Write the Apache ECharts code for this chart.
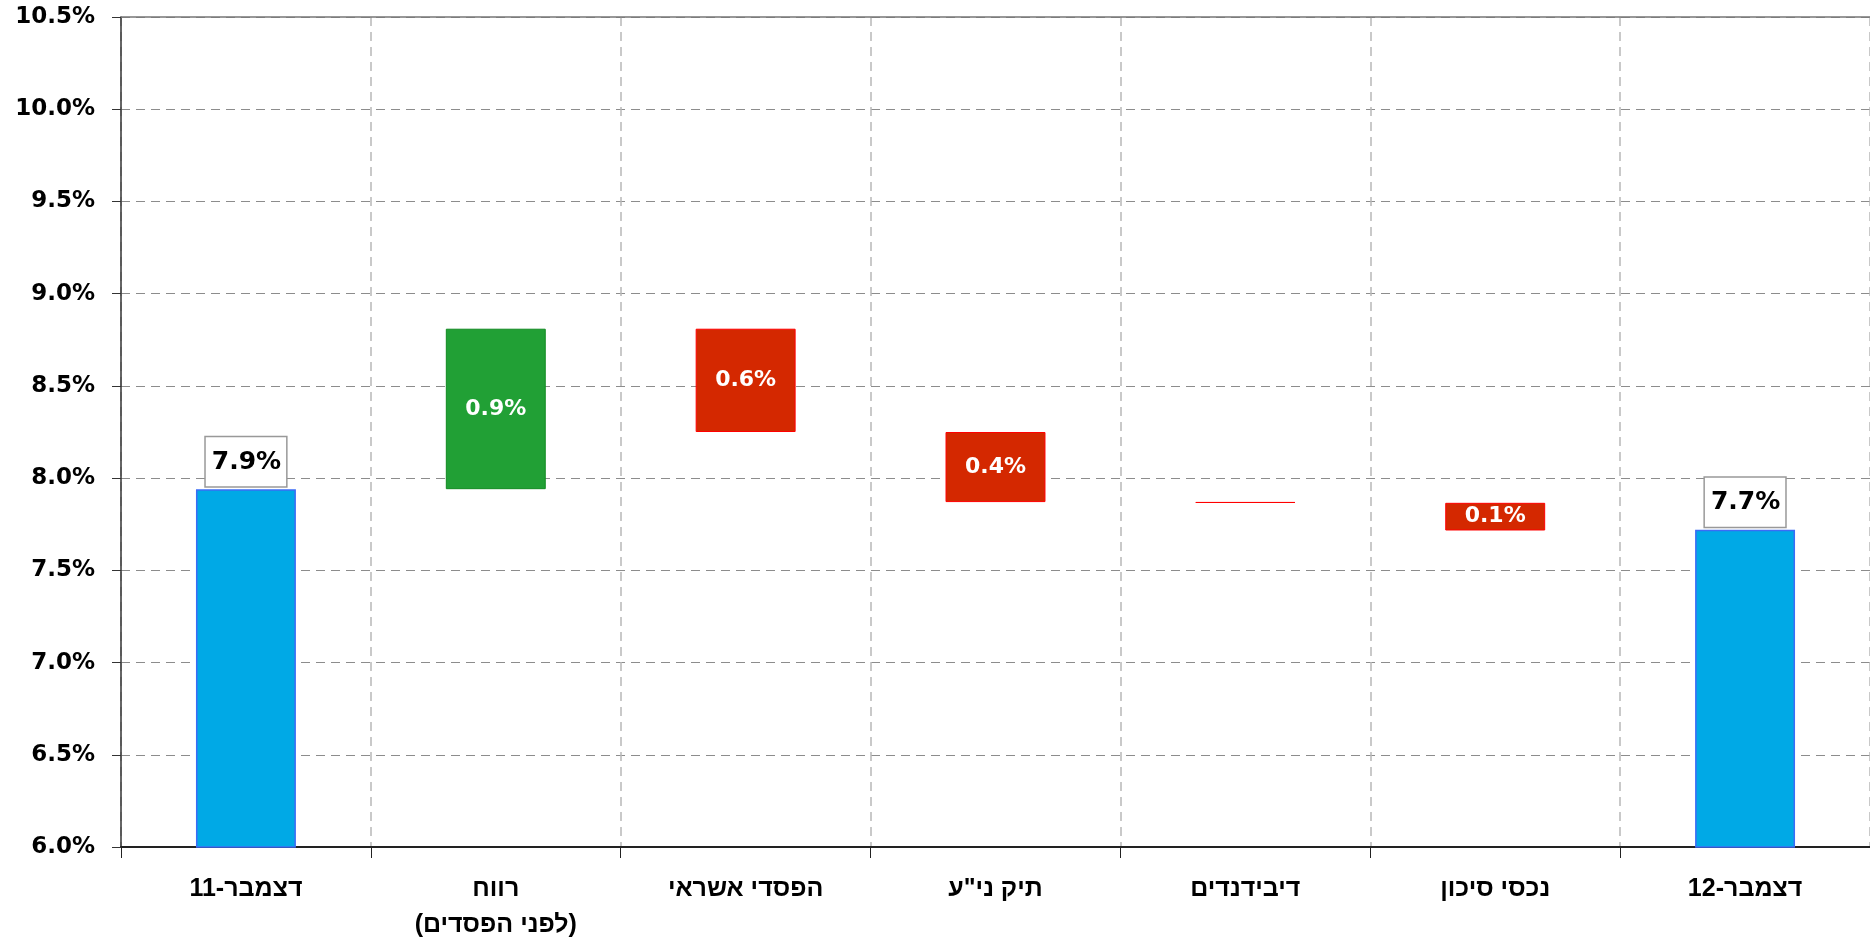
<!DOCTYPE html>
<html>
<head>
    <meta charset="utf-8">
    <title>waterfall</title>
    <script src="https://cdn.jsdelivr.net/npm/echarts@6/dist/echarts.min.js"></script>
    <style>
        html, body {
            margin: 0;
            padding: 0;
            background: #ffffff;
        }

        #chart {
            width: 1870px;
            height: 941px;
        }
    </style>
</head>
<body>
<div id="chart" dir="rtl"></div>
<script>
    // 变化项
    var categories = ['דצמבר-11', 'רווח\n(לפני הפסדים)', 'הפסדי אשראי', 'תיק ני"ע', 'דיבידנדים', 'נכסי סיכון', 'דצמבר-12'];
    var startValue = 7.94;
    var stepValues = [0.87, -0.56, -0.38, -0.004, -0.15];
    var endValue = 7.72;
    var yTicks = [6.0, 6.5, 7.0, 7.5, 8.0, 8.5, 9.0, 9.5, 10.0, 10.5];

    var colorTotal = '#00a9e6', borderTotal = '#3b6cf6';
    var colorUp = '#21a035', borderUp = '#118a22';
    var colorDown = '#d42800', borderDown = '#ff0000';
    var font = '"DejaVu Sans", Verdana, sans-serif';
    var hebFont = '"Liberation Sans", Arial, sans-serif';

    // 瀑布图：透明底座 + 可见部分
    var baseData = [0];
    var showData = [{
        value: startValue,
        itemStyle: {color: colorTotal, borderColor: borderTotal, borderWidth: 1.5}
    }];
    var running = startValue;
    stepValues.forEach(function (v) {
        var next = running + v;
        baseData.push(Math.min(running, next));
        showData.push({
            value: Math.abs(v),
            itemStyle: v >= 0
                ? {color: colorUp, borderColor: borderUp, borderWidth: 1}
                : {color: colorDown, borderColor: borderDown, borderWidth: 1},
            label: {position: 'inside'}
        });
        running = next;
    });
    baseData.push(0);
    showData.push({
        value: endValue,
        itemStyle: {color: colorTotal, borderColor: borderTotal, borderWidth: 1.5}
    });

    // 总量柱子的标签：白底灰框
    [0, showData.length - 1].forEach(function (i) {
        showData[i].label = {
            position: 'top',
            distance: 3,
            color: '#000',
            fontSize: 25,
            lineHeight: 26,
            backgroundColor: '#fff',
            borderColor: '#999',
            borderWidth: 1.5,
            padding: [12, 5, 11, 6]
        };
    });

    var chart = echarts.init(document.getElementById('chart'));
    var option = {
        animation: false,
        grid: {
            left: 121,
            right: 0,
            top: 17,
            bottom: 94,
            outerBoundsMode: 'none'
        },
        xAxis: [
            {
                type: 'category',
                data: categories,
                axisLine: {lineStyle: {color: '#222', width: 2}},
                axisTick: {show: true, length: 11, lineStyle: {color: '#222'}},
                axisLabel: {
                    color: '#000',
                    fontFamily: hebFont,
                    fontWeight: 'bold',
                    fontSize: 25,
                    lineHeight: 36,
                    margin: 24
                },
                splitLine: {
                    show: true,
                    lineStyle: {color: '#b8b8b8', type: [9, 6], width: 1.5}
                }
            },
            {
                type: 'category',
                position: 'top',
                data: categories,
                axisLine: {lineStyle: {color: '#777', width: 1.5}},
                axisTick: {show: false},
                axisLabel: {show: false}
            }
        ],
        yAxis: {
            type: 'value',
            min: yTicks[0],
            max: yTicks[yTicks.length - 1],
            interval: 0.5,
            axisLine: {show: true, lineStyle: {color: '#333', width: 1.5}},
            axisTick: {show: true, length: 9, lineStyle: {color: '#333'}},
            axisLabel: {
                color: '#000',
                fontFamily: font,
                fontWeight: 'bold',
                fontSize: 23,
                margin: 26,
                formatter: function (v) {
                    return v.toFixed(1) + '%';
                }
            },
            splitLine: {
                show: true,
                lineStyle: {color: '#8c8c8c', type: [9, 6], width: 1.2}
            }
        },
        series: [
            {
                name: 'base',
                type: 'bar',
                stack: 'wf',
                barWidth: '40%',
                itemStyle: {color: 'transparent'},
                silent: true,
                data: baseData
            },
            {
                name: 'value',
                type: 'bar',
                stack: 'wf',
                barWidth: '40%',
                data: showData,
                label: {
                    show: true,
                    fontFamily: font,
                    fontWeight: 'bold',
                    fontSize: 22,
                    color: '#fff',
                    formatter: function (p) {
                        if (p.value < 0.05) return '';
                        return p.value.toFixed(1) + '%';
                    }
                }
            }
        ]
    };

    chart.setOption(option);
</script>
</body>
</html>
